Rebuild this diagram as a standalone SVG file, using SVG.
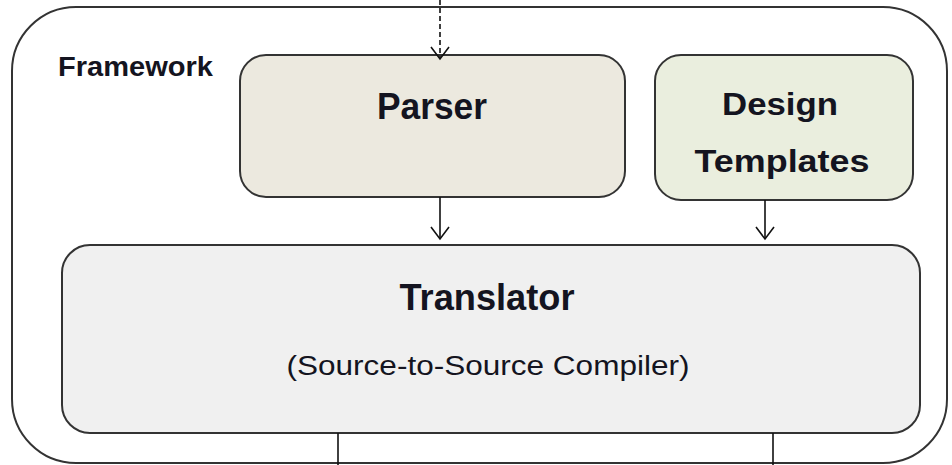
<svg xmlns="http://www.w3.org/2000/svg" width="952" height="465" viewBox="0 0 952 465">
  <style>
    .frame { fill: #ffffff; stroke: #333333; stroke-width: 2; }
    .box { stroke: #333333; stroke-width: 2; }
    .link { fill: none; stroke: #111111; stroke-width: 1.6; }
    .dash { stroke-dasharray: 5 3; }
    .t { font-family: "Liberation Sans", Arial, sans-serif; fill: #141420; }
    .b { font-weight: bold; }
  </style>
  <defs>
    <!-- open V arrowhead, drawn along +x so orient="auto" follows the line -->
    <marker id="open" viewBox="0 0 20 20" refX="18" refY="10" markerWidth="20" markerHeight="20" markerUnits="userSpaceOnUse" orient="auto">
      <path d="M6 1 L18 10 L6 19" fill="none" stroke="#111111" stroke-width="1.6"/>
    </marker>
  </defs>

  <rect width="952" height="465" fill="#ffffff"/>

  <!-- framework container -->
  <g id="framework">
    <rect class="frame" x="12" y="7" width="935" height="456" rx="64" ry="64"/>
    <text class="t b" x="58" y="76" font-size="28" textLength="155" lengthAdjust="spacingAndGlyphs">Framework</text>
  </g>

  <!-- parser -->
  <g id="parser">
    <rect class="box" x="240" y="55" width="385" height="142" rx="26" ry="26" fill="#ECE9DF"/>
    <text class="t b" x="432" y="119" font-size="36" text-anchor="middle" textLength="110" lengthAdjust="spacingAndGlyphs">Parser</text>
  </g>

  <!-- design templates -->
  <g id="design-templates">
    <rect class="box" x="655" y="55" width="258" height="145" rx="26" ry="26" fill="#EAEEDE"/>
    <text class="t b" x="780" y="115" font-size="32" text-anchor="middle" textLength="116" lengthAdjust="spacingAndGlyphs">Design</text>
    <text class="t b" x="782" y="172" font-size="32" text-anchor="middle" textLength="175" lengthAdjust="spacingAndGlyphs">Templates</text>
  </g>

  <!-- translator -->
  <g id="translator">
    <rect class="box" x="62" y="245" width="858" height="188" rx="28" ry="28" fill="#F0F0F0"/>
    <text class="t b" x="487" y="310" font-size="36" text-anchor="middle" textLength="175" lengthAdjust="spacingAndGlyphs">Translator</text>
    <text class="t" x="488" y="375" font-size="27" text-anchor="middle" textLength="403" lengthAdjust="spacingAndGlyphs">(Source-to-Source Compiler)</text>
  </g>

  <!-- connectors -->
  <g id="connectors">
    <line class="link dash" x1="440" y1="0" x2="440" y2="59" marker-end="url(#open)"/>
    <line class="link" x1="440" y1="197" x2="440" y2="239" marker-end="url(#open)"/>
    <line class="link" x1="765" y1="200" x2="765" y2="239" marker-end="url(#open)"/>
    <line class="link" x1="338" y1="433" x2="338" y2="465"/>
    <line class="link" x1="773" y1="433" x2="773" y2="465"/>
  </g>
</svg>
